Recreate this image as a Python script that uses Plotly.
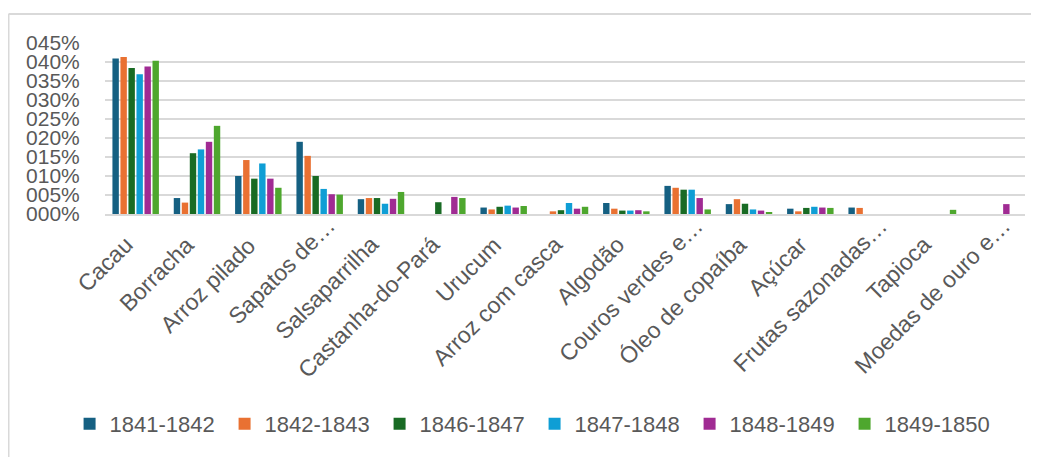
import plotly.graph_objects as go

categories = ["Cacau", "Borracha", "Arroz pilado", "Sapatos de…", "Salsaparrilha",
              "Castanha-do-Pará", "Urucum", "Arroz com casca", "Algodão", "Couros verdes e…",
              "Óleo de copaíba", "Açúcar", "Frutas sazonadas…", "Tapioca", "Moedas de ouro e…"]

s1841_1842 = [40.9, 4.2, 10.0, 19.0, 3.9, 0, 1.7, 0, 2.9, 7.4, 2.6, 1.4, 1.7, 0, 0]
s1842_1843 = [41.3, 3.0, 14.2, 15.3, 4.2, 0, 1.2, 0.7, 1.4, 6.9, 3.9, 0.7, 1.6, 0, 0]
s1846_1847 = [38.4, 16.0, 9.3, 10.0, 4.2, 3.1, 1.9, 1.0, 0.9, 6.4, 2.7, 1.6, 0, 0, 0]
s1847_1848 = [36.8, 17.0, 13.3, 6.6, 2.7, 0, 2.2, 2.9, 0.9, 6.4, 1.2, 1.9, 0, 0, 0]
s1848_1849 = [38.8, 19.0, 9.3, 5.2, 4.0, 4.5, 1.7, 1.4, 1.0, 4.2, 0.9, 1.7, 0, 0, 2.6]
s1849_1850 = [40.3, 23.2, 6.9, 5.1, 5.8, 4.2, 2.1, 1.9, 0.7, 1.2, 0.3, 1.6, 0, 1.1, 0]

series_names = ["1841-1842", "1842-1843", "1846-1847", "1847-1848", "1848-1849", "1849-1850"]
series_values = [s1841_1842, s1842_1843, s1846_1847, s1847_1848, s1848_1849, s1849_1850]
colors = ["#156082", "#E97132", "#196B24", "#0F9ED5", "#A02B93", "#4EA72E"]

tick_vals = [0, 5, 10, 15, 20, 25, 30, 35, 40, 45]
tick_text = ["000%", "005%", "010%", "015%", "020%", "025%", "030%", "035%", "040%", "045%"]

FONT = "Liberation Sans"
GRAY = "#595959"

fig = go.Figure()
for name, vals, col in zip(series_names, series_values, colors):
    fig.add_trace(go.Bar(x=categories, y=vals, name=name,
                         marker=dict(color=col, line=dict(width=0))))

# category labels drawn at the category positions of the x axis (Excel-like placement:
# truncated labels let their ellipsis overflow past the anchor)
annotations = []
for cat in categories:
    truncated = cat.endswith("…")
    annotations.append(dict(
        x=cat, xref="x", y=0, yref="paper", text=cat, showarrow=False,
        textangle=-45, xanchor="right", yanchor="top",
        xshift=(23 if truncated else 5), yshift=(4 if truncated else -15),
        font=dict(family=FONT, size=23, color=GRAY)))

fig.update_layout(
    width=1031, height=449,
    margin=dict(l=97, r=14, t=35, b=243, autoexpand=False),
    paper_bgcolor="white", plot_bgcolor="white",
    barmode="group", bargap=0.216, bargroupgap=0.2,
    font=dict(family=FONT, size=21, color=GRAY),
    showlegend=True,
    legend=dict(orientation="h", x=-0.0385, xanchor="left", y=-1.228, yanchor="middle",
                font=dict(family=FONT, size=22, color=GRAY),
                entrywidth=110, entrywidthmode="pixels",
                itemwidth=30, bgcolor="rgba(0,0,0,0)"),
    annotations=annotations,
    shapes=[
        dict(type="line", xref="paper", yref="paper", x0=-0.1049, x1=1.2, y0=1.1696, y1=1.1696,
             line=dict(color="#d9d9d9", width=2)),
        dict(type="line", xref="paper", yref="paper", x0=-0.1049, x1=-0.1049, y0=1.1696, y1=-1.6,
             line=dict(color="#d9d9d9", width=2)),
    ],
)

fig.update_yaxes(range=[0, 45], tickvals=tick_vals, ticktext=tick_text, automargin=False,
                 showgrid=True, gridcolor="#d9d9d9", gridwidth=1.5, zeroline=False,
                 showline=False, ticks="outside", ticklen=20, tickcolor="rgba(0,0,0,0)",
                 tickfont=dict(family=FONT, size=21, color=GRAY), fixedrange=True)
fig.update_xaxes(range=[-0.5, len(categories) - 0.5], autorange=False,
                 showline=True, linecolor="#d9d9d9", linewidth=2, automargin=False,
                 showgrid=False, ticks="", showticklabels=False,
                 fixedrange=True)

fig.write_html("out.html")
